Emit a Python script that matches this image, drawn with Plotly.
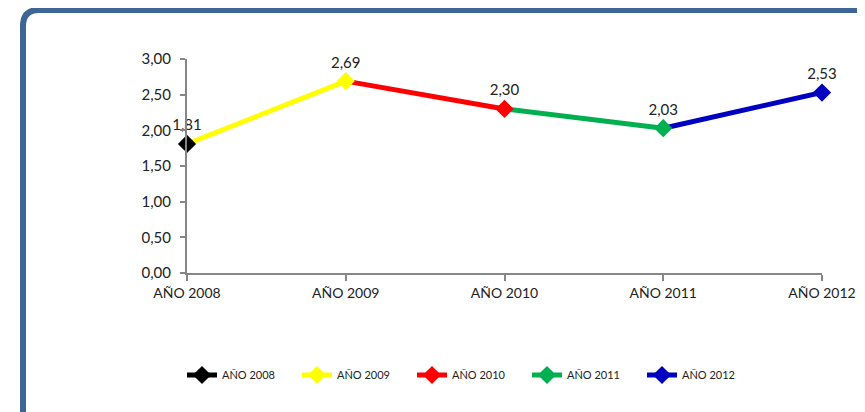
import plotly.graph_objects as go

years = ["AÑO 2008", "AÑO 2009", "AÑO 2010", "AÑO 2011", "AÑO 2012"]
values = [1.81, 2.69, 2.30, 2.03, 2.53]
colors = ["#000000", "#ffff00", "#ff0000", "#00b050", "#0000c0"]

# page body adds an 8px margin, so the figure is drawn 8px smaller
OFF = 8
W, H = 865 - OFF, 412 - OFF
L, R, T, B = 187 - OFF, W - (822 - OFF), 59 - OFF, H - (273 - OFF)
pw, ph = W - L - R, H - T - B


def px(x):
    return (x - OFF - L) / pw


def py(y):
    return (H - B - (y - OFF)) / ph


fig = go.Figure()

# segments first, coloured by the year they end in
for i in range(1, len(years)):
    fig.add_trace(go.Scatter(
        x=[i - 1, i], y=[values[i - 1], values[i]],
        mode="lines", line=dict(color=colors[i], width=5),
        legendgroup=years[i], showlegend=False, hoverinfo="skip",
        cliponaxis=False,
    ))

# markers + labels on top
for i, yr in enumerate(years):
    fig.add_trace(go.Scatter(
        x=[i], y=[values[i]], name=yr, legendgroup=yr,
        mode="lines+markers+text",
        line=dict(color=colors[i], width=5),
        marker=dict(symbol="diamond", size=14, color=colors[i]),
        text=[f"{values[i]:.2f}".replace(".", ",")],
        textposition="top center",
        textfont=dict(size=15, color="#222222"),
        cliponaxis=False,
    ))

# rounded frame (bottom edge falls just below the page)
x0, x1, y0, y1, r = px(23), px(885), py(10), py(415.5), 16
rx, ry = r / pw, r / ph
path = (f"M {x0},{y1 - ry} L {x0},{y0 - ry} Q {x0},{y0} {x0 + rx},{y0} "
        f"L {x1},{y0} M {x0},{y1 - ry} Q {x0},{y1} {x0 + rx},{y1} L {x1},{y1}")

fig.update_layout(
    width=W, height=H,
    margin=dict(l=L, r=R, t=T, b=B),
    paper_bgcolor="white", plot_bgcolor="white",
    separators=",.",
    font=dict(family="Lato, Open Sans, sans-serif", color="#222222"),
    showlegend=True,
    legend=dict(
        orientation="h", x=px(182), xanchor="left", y=py(375), yanchor="middle",
        font=dict(size=11), entrywidth=70, itemwidth=30,
        bgcolor="rgba(0,0,0,0)",
    ),
    shapes=[dict(type="path", xref="paper", yref="paper", path=path,
                 line=dict(color="#3d6596", width=6), layer="below")],
    xaxis=dict(
        range=[0, 4], tickmode="array", tickvals=list(range(5)), ticktext=years,
        showgrid=False, zeroline=False, showline=True, linecolor="#868686", linewidth=2,
        ticks="outside", ticklen=6, tickcolor="#868686", tickwidth=2,
        tickfont=dict(size=14), fixedrange=True, automargin=False,
    ),
    yaxis=dict(
        range=[0, 3], dtick=0.5, tickformat=".2f",
        showgrid=False, zeroline=False, showline=True, linecolor="#868686", linewidth=2,
        ticks="outside", ticklen=5, tickcolor="#868686", tickwidth=2,
        tickfont=dict(size=15), ticklabelstandoff=6, fixedrange=True, automargin=False,
    ),
)

fig.write_html("out.html")
